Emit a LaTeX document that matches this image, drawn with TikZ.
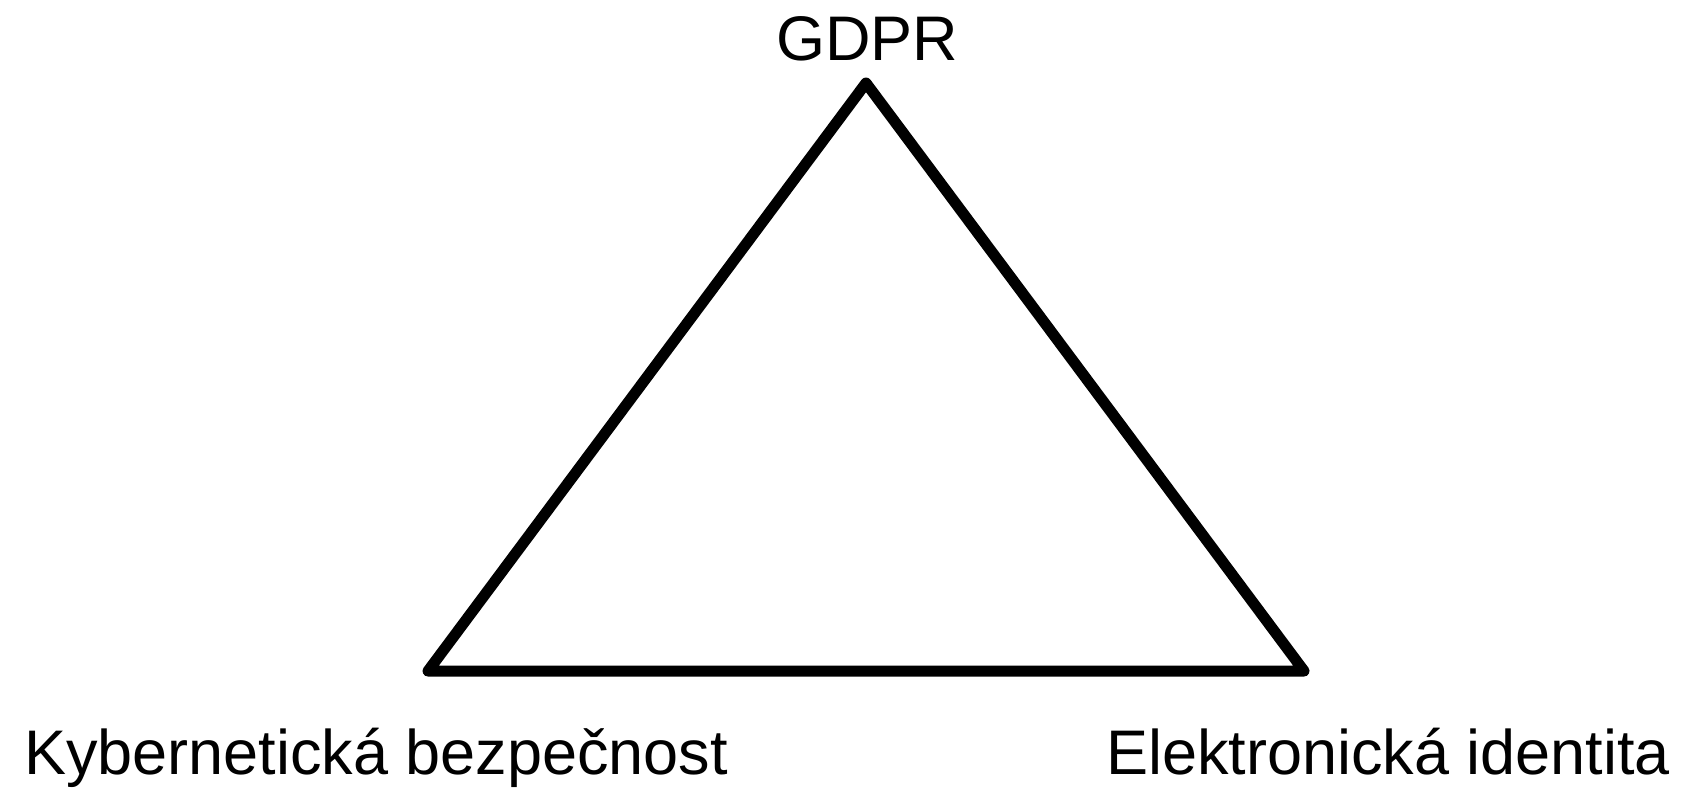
\documentclass[tikz,border=0pt]{standalone}
\usepackage{fontspec}
\setmainfont{Liberation Sans}
\begin{document}
\begin{tikzpicture}[x=1pt,y=-1pt,
  lbl/.style={inner sep=0pt,font=\fontsize{63}{70}\selectfont},
  edge/.style={line width=11pt,line join=round,line cap=round}]
\useasboundingbox (0,0) rectangle (1685,788);
\coordinate (top) at (866,83);
\coordinate (bl) at (428,671);
\coordinate (br) at (1304,671);
\draw[edge] (top) -- (bl) -- (br) -- cycle;
\node[lbl,anchor=base] (gdpr) at (867,60) {GDPR};
\node[lbl,anchor=base west] (kyb) at (24,774) {Kybernetická bezpečnost};
\node[lbl,anchor=base west] (eid) at (1106,774) {Elektronická identita};
\end{tikzpicture}
\end{document}
